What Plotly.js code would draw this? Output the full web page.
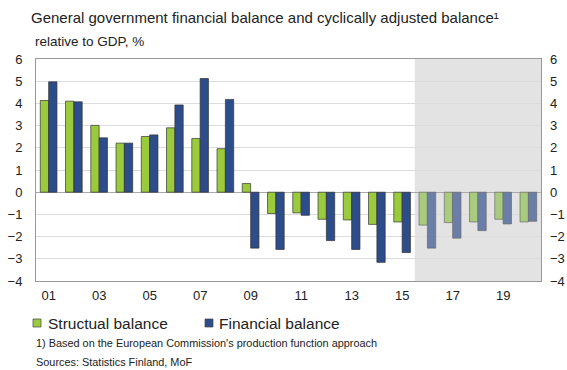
<!DOCTYPE html>
<html><head><meta charset="utf-8">
<script src="https://cdn.plot.ly/plotly-3.0.1.min.js"></script>
<style>body{margin:0;padding:0;}#c{width:567px;height:370px;}</style>
</head><body><div id="c"></div>
<script>
const years = [2001,2002,2003,2004,2005,2006,2007,2008,2009,2010,2011,2012,2013,2014,2015,2016,2017,2018,2019,2020];
const structural = [4.13,4.10,3.01,2.21,2.51,2.90,2.42,1.96,0.39,-0.96,-0.93,-1.22,-1.25,-1.45,-1.34,-1.48,-1.37,-1.34,-1.22,-1.34];
const financial = [4.97,4.07,2.45,2.21,2.58,3.93,5.12,4.18,-2.52,-2.58,-1.04,-2.18,-2.58,-3.16,-2.72,-2.52,-2.07,-1.73,-1.43,-1.31];
const seriesNames = ['Structual balance','Financial balance'];
const forecastFrom = 2016;
const tickYears = [2001,2003,2005,2007,2009,2011,2013,2015,2017,2019];
const tickLabels = ["01","03","05","07","09","11","13","15","17","19"];
const yTicks = [-4,-3,-2,-1,0,1,2,3,4,5,6];

const GREEN = '#9bcb3c', BLUE = '#2d4c8a';
const greenC = years.map(y => y >= forecastFrom ? '#a8cb7e' : GREEN);
const blueC = years.map(y => y >= forecastFrom ? '#6a7ea8' : BLUE);
const lineC = years.map(y => y >= forecastFrom ? '#6a6a6a' : '#333');

// plot area in pixels
const W = 567, H = 370, ML = 36, MR = 26, MT = 59, MB = 89;
const PW = W - ML - MR, PH = H - MT - MB;
const px = x => (x - ML) / PW;
const py = y => (H - MB - y) / PH;

const traces = [
  {type:'bar', x:years, y:structural, name:seriesNames[0], showlegend:false,
   marker:{color:greenC, line:{color:lineC, width:0.7}}},
  {type:'bar', x:years, y:financial, name:seriesNames[1], showlegend:false,
   marker:{color:blueC, line:{color:lineC, width:0.7}}},
  {type:'scatter', x:[years[0]], y:[0], yaxis:'y2', showlegend:false, hoverinfo:'skip',
   mode:'markers', marker:{opacity:0}}
];
const font = {family:'Liberation Sans, Arial, sans-serif', color:'#222'};
const legendItems = [{sx:33, tx:46, color:GREEN, name:seriesNames[0]},
                     {sx:205, tx:217, color:BLUE, name:seriesNames[1]}];
const shapes = [{type:'rect', xref:'x', yref:'paper', x0:forecastFrom-0.5, x1:2020.5, y0:0, y1:1,
    fillcolor:'#e3e3e3', line:{width:0}, layer:'below'}];
const annotations = [
    {text:'relative to GDP, %', xref:'paper', yref:'paper', x:px(33), y:py(42), xanchor:'left', yanchor:'middle',
     showarrow:false, font:{size:13.5, color:'#222'}},
    {text:"1) Based on the European Commission's production function approach", xref:'paper', yref:'paper',
     x:px(34), y:py(343), xanchor:'left', yanchor:'middle', showarrow:false, font:{size:10.9, color:'#222'}},
    {text:'Sources: Statistics Finland, MoF', xref:'paper', yref:'paper',
     x:px(34), y:py(362), xanchor:'left', yanchor:'middle', showarrow:false, font:{size:10.9, color:'#222'}}
];
legendItems.forEach(it => {
  shapes.push({type:'rect', xref:'paper', yref:'paper', x0:px(it.sx), x1:px(it.sx+8), y0:py(327), y1:py(319),
    fillcolor:it.color, line:{color:'#444', width:0.7}});
  annotations.push({text:it.name, xref:'paper', yref:'paper', x:px(it.tx), y:py(323.5), xanchor:'left', yanchor:'middle',
    showarrow:false, font:{size:15.5, color:'#222'}});
});
const layout = {
  width:W, height:H,
  margin:{l:ML, r:MR, t:MT, b:MB},
  paper_bgcolor:'#fff', plot_bgcolor:'#fff',
  font: Object.assign({size:13}, font),
  barmode:'group', bargap:0.34, bargroupgap:0,
  showlegend:false,
  title:{text:'General government financial balance and cyclically adjusted balance¹',
    x:31/W, xanchor:'left', y:1-18/H, yanchor:'middle', font:{size:15, color:'#222', family:font.family}},
  xaxis:{range:[2000.5,2020.5], tickvals:tickYears, ticktext:tickLabels, showgrid:false,
    zeroline:false, showline:true, linecolor:'#999', linewidth:1, mirror:true,
    ticks:'', tickfont:{size:13}, ticklabelstandoff:2, fixedrange:true},
  yaxis:{range:[-4,6], tickvals:yTicks, showgrid:true, gridcolor:'#dcdcdc', gridwidth:1,
    zeroline:true, zerolinecolor:'#aaa', zerolinewidth:1, showline:true, linecolor:'#999',
    mirror:true, ticks:'', tickfont:{size:13}, ticklabelstandoff:10},
  yaxis2:{range:[-4,6], tickvals:yTicks, overlaying:'y', side:'right', showgrid:false,
    zeroline:false, showline:false, ticks:'', tickfont:{size:13}, ticklabelstandoff:8},
  shapes: shapes,
  annotations: annotations
};
Plotly.newPlot('c', traces, layout, {displayModeBar:false, staticPlot:true});
</script></body></html>
